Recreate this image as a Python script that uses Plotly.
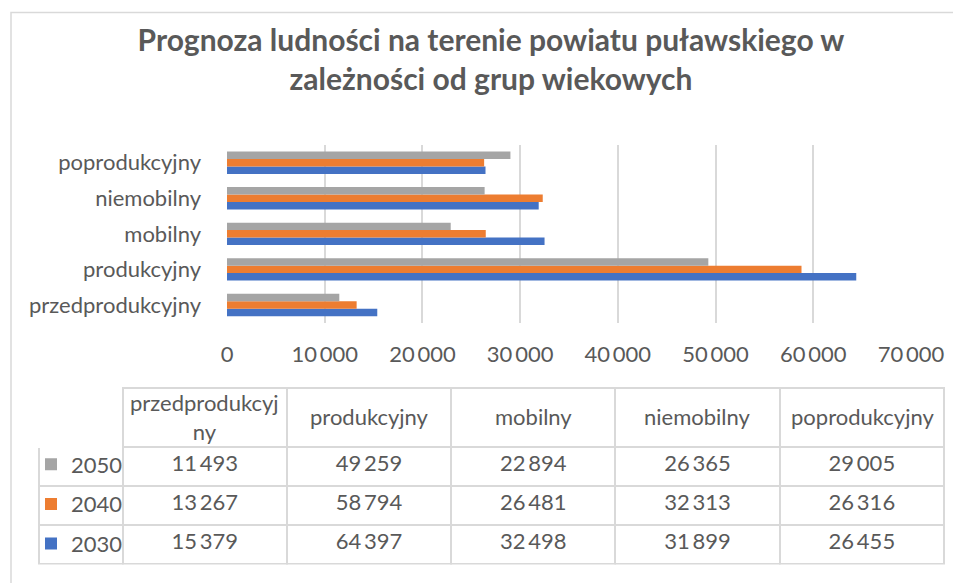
import plotly.graph_objects as go

categories = ["przedprodukcyjny", "produkcyjny", "mobilny", "niemobilny", "poprodukcyjny"]
header_labels = ["przedprodukcyj<br>ny", "produkcyjny", "mobilny", "niemobilny", "poprodukcyjny"]
years = ["2030", "2040", "2050"]
values_2030 = [15379, 64397, 32498, 31899, 26455]
values_2040 = [13267, 58794, 26481, 32313, 26316]
values_2050 = [11493, 49259, 22894, 26365, 29005]
series = {"2030": values_2030, "2040": values_2040, "2050": values_2050}
colors = {"2030": "#4472C4", "2040": "#ED7D31", "2050": "#A5A5A5"}
legend_rank = {"2050": 1, "2040": 2, "2030": 3}

# the page adds an 8px body margin; work in page pixels and convert
OFF = 8
W, H = 961 - OFF, 583 - OFF
FONT = "Lato"
TXT = "#595959"
GRID = "#D9D9D9"
FS = 22


def px(x):
    return (x - OFF) / W


def py(y):
    return 1 - (y - OFF) / H


def fmt(v):
    return f"{v:,}".replace(",", "\u2009")


fig = go.Figure()
for y in years:
    fig.add_trace(go.Bar(
        y=categories, x=series[y], name=y, orientation="h",
        marker=dict(color=colors[y], line=dict(width=0)),
        legendgroup=y, legendrank=legend_rank[y], showlegend=True,
    ))

# data table (rows: 2050, 2040, 2030)
table_rows = ["2050", "2040", "2030"]
tbl_left, tbl_first_w, tbl_col_w = 39.0, 83.7, 164.3
tbl_top, head_h, row_h = 387.5, 59, 39
tbl_right = tbl_left + tbl_first_w + tbl_col_w * len(categories)
tbl_bottom = tbl_top + head_h + row_h * len(table_rows)

cell_cols = [["", "", ""]]
for i, c in enumerate(categories):
    cell_cols.append([fmt(series[r][i]) for r in table_rows])

fig.add_trace(go.Table(
    domain=dict(x=[px(tbl_left), px(tbl_right)], y=[py(tbl_bottom + 2), py(tbl_top)]),
    columnwidth=[tbl_first_w] + [tbl_col_w] * len(categories),
    header=dict(
        values=[""] * (len(categories) + 1),
        height=head_h,
        fill=dict(color="white"),
        line=dict(color=["white"] + [GRID] * len(categories), width=2),
    ),
    cells=dict(
        values=cell_cols,
        height=row_h,
        align="center",
        font=dict(family=FONT, size=FS, color=TXT),
        fill=dict(color="white"),
        line=dict(color=GRID, width=2),
    ),
))

annotations = []
for i, lab in enumerate(header_labels):
    cx = tbl_left + tbl_first_w + tbl_col_w * (i + 0.5)
    annotations.append(dict(
        text=lab, x=px(cx), y=py(tbl_top + head_h / 2 - 0.5), xref="paper", yref="paper",
        xanchor="center", yanchor="middle", showarrow=False,
        font=dict(family=FONT, size=FS, color=TXT),
    ))

fig.update_layout(
    template="none",
    width=W, height=H,
    margin=dict(l=0, r=0, t=0, b=0),
    paper_bgcolor="white", plot_bgcolor="white",
    separators=",\u2009",
    barmode="group", bargap=0.37, bargroupgap=0,
    font=dict(family=FONT, color=TXT),
    title=dict(
        text="<b>Prognoza ludności na terenie powiatu puławskiego w<br>zależności od grup wiekowych</b>",
        x=px(491), xanchor="center", xref="paper",
        y=1 - 43 / H, yanchor="top", yref="container",
        font=dict(family=FONT, size=30, color=TXT),
    ),
    xaxis=dict(
        domain=[px(227), px(911)], range=[0, 70000], dtick=10000, tick0=0,
        tickformat=",d", showgrid=True, gridcolor=GRID, gridwidth=1.5,
        zeroline=False, showline=False, ticks="", automargin=False,
        tickfont=dict(family=FONT, size=FS, color=TXT), ticklabelstandoff=16,
    ),
    yaxis=dict(
        domain=[py(322.7), py(145)], showgrid=False, zeroline=False,
        showline=False, ticks="", automargin=False,
        tickfont=dict(family=FONT, size=FS, color=TXT), ticklabelstandoff=25,
    ),
    showlegend=True,
    legend=dict(
        x=px(31), xanchor="left", y=py(443.5), yanchor="top",
        traceorder="grouped", tracegroupgap=8,
        font=dict(family=FONT, size=FS, color=TXT),
        bgcolor="rgba(0,0,0,0)", borderwidth=0,
    ),
    annotations=annotations,
    shapes=[dict(type="rect", xref="paper", yref="paper",
                 x0=px(11), x1=1.1, y0=-0.1, y1=py(12.5),
                 line=dict(color=GRID, width=1.5), fillcolor="rgba(0,0,0,0)",
                 layer="above")],
)

fig.write_html("out.html")
